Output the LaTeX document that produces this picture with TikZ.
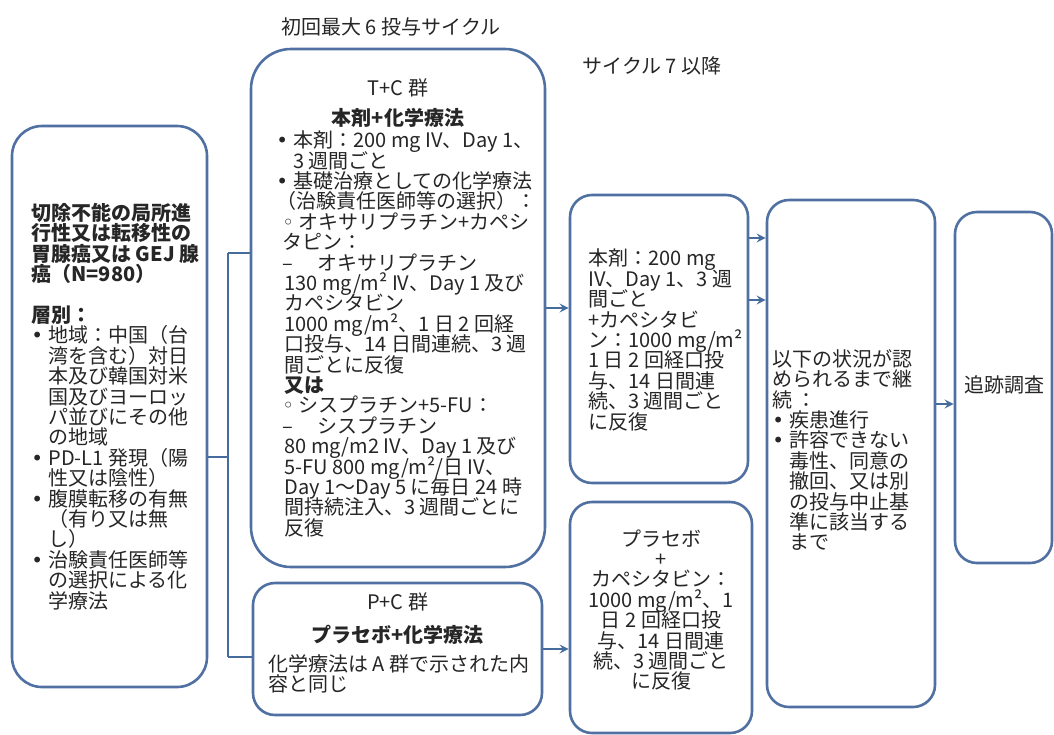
\documentclass[tikz,border=0pt]{standalone}
\usepackage{fontspec}
\setmainfont{Noto Sans CJK JP}
\newfontfamily\symfont{DejaVu Sans}
\usetikzlibrary{calc}

\definecolor{boxline}{RGB}{80,112,162}
\definecolor{arrline}{RGB}{70,108,158}
\newcommand{\bul}{\makebox[8.5pt][l]{\symfont •}}
\newcommand{\subbul}{\makebox[8pt][l]{\symfont ◦}}
\newcommand{\ind}{\hspace*{8.5pt}}

\begin{document}
\begin{tikzpicture}[x = 0.5pt, y = -0.5pt,
    box/.style = {draw = boxline, line width = 1.3pt, rounded corners = 11pt, fill = white},
    txt/.style = {inner sep = 0pt, text = black!85, font = {\fontsize{10}{10.2}\selectfont\lineskiplimit=-20pt\lineskip=0pt}, align = left},
    conn/.style = {draw = arrline, line width = 1pt}]
    \useasboundingbox (0, 0) rectangle (1054, 734);

    \node[txt] (headA) at (391, 27) {初回最大 6 投与サイクル};
    \node[txt] (headB) at (652, 66) {サイクル 7 以降};

    \node[box, minimum width = 97.5pt, minimum height = 280.5pt, rounded corners = 15pt] (pop) at (109.5, 406.5) {};
    \node[box, minimum width = 147pt, minimum height = 259pt, rounded corners = 20pt] (armT) at (398, 308) {};
    \node[box, minimum width = 144.5pt, minimum height = 66pt] (armP) at (397.5, 649) {};
    \node[box, minimum width = 89pt, minimum height = 144pt] (contT) at (659, 339) {};
    \node[box, minimum width = 91pt, minimum height = 115.5pt] (contP) at (661, 617.5) {};
    \node[box, minimum width = 84pt, minimum height = 253.5pt] (until) at (851, 453.5) {};
    \node[box, minimum width = 48.5pt, minimum height = 175.5pt] (follow) at (1003.5, 387.5) {};

    \node[txt, anchor = west] (popText) at (31, 406.5) {%
        \textbf{切除不能の局所進}\\
        \textbf{行性又は転移性の}\\
        \textbf{胃腺癌又は GEJ 腺}\\
        \textbf{癌（N=980）}\\
        \mbox{}\\
        \textbf{層別：}\\
        \bul 地域：中国（台\\
        \ind 湾を含む）対日\\
        \ind 本及び韓国対米\\
        \ind 国及びヨーロッ\\
        \ind パ並びにその他\\
        \ind の地域\\
        \bul PD-L1 発現（陽\\
        \ind 性又は陰性）\\
        \bul 腹膜転移の有無\\
        \ind （有り又は無\\
        \ind し）\\
        \bul 治験責任医師等\\
        \ind の選択による化\\
        \ind 学療法};

    \node[txt] (armTname) at (398, 88) {T+C 群};
    \node[txt] (armTtitle) at (398, 118) {\textbf{本剤+化学療法}};
    \node[txt, anchor = west] (armTtext) at (276, 334) {%
        \bul 本剤：200 mg IV、Day 1、\\
        \ind 3 週間ごと\\
        \bul 基礎治療としての化学療法\\
        （治験責任医師等の選択）：\\
        \hspace*{3pt}\subbul オキサリプラチン+カペシ\\
        \hspace*{3pt}タピン：\\
        \hspace*{3pt}–\hspace*{12pt}オキサリプラチン\\
        \hspace*{4pt}130 mg/m² IV、Day 1 及び\\
        \hspace*{4pt}カペシタビン\\
        \hspace*{4pt}1000 mg/m²、1 日 2 回経\\
        \hspace*{4pt}口投与、14 日間連続、3 週\\
        \hspace*{4pt}間ごとに反復\\
        \hspace*{4pt}\textbf{又は}\\
        \hspace*{3pt}\subbul シスプラチン+5-FU：\\
        \hspace*{3pt}–\hspace*{12pt}シスプラチン\\
        \hspace*{4pt}80 mg/m2 IV、Day 1 及び\\
        \hspace*{4pt}5-FU 800 mg/m²/日 IV、\\
        \hspace*{4pt}Day 1～Day 5 に毎日 24 時\\
        \hspace*{4pt}間持続注入、3 週間ごとに\\
        \hspace*{4pt}反復};

    \node[txt] (armPname) at (397.5, 602) {P+C 群};
    \node[txt] (armPtitle) at (397.5, 635) {\textbf{プラセボ+化学療法}};
    \node[txt, anchor = west] (armPtext) at (268, 674) {化学療法は A 群で示された内\\容と同じ};

    \node[txt, anchor = west] (contTtext) at (588, 340) {%
        本剤：200 mg\\
        IV、Day 1、3 週\\
        間ごと\\
        +カペシタビ\\
        ン：1000 mg/m²\\
        1 日 2 回経口投\\
        与、14 日間連\\
        続、3 週間ごと\\
        に反復};
    \node[txt, align = center] (contPtext) at (661, 610) {%
        プラセボ\\
        +\\
        カペシタビン：\\
        1000 mg/m²、1\\
        日 2 回経口投\\
        与、14 日間連\\
        続、3 週間ごと\\
        に反復};
    \node[txt, anchor = west] (untilText) at (772, 450) {%
        以下の状況が認\\
        められるまで継\\
        続 ：\\
        \bul 疾患進行\\
        \bul 許容できない\\
        \ind 毒性、同意の\\
        \ind 撤回、又は別\\
        \ind の投与中止基\\
        \ind 準に該当する\\
        \ind まで};
    \node[txt] (followText) at (1004, 385) {追跡調査};

    \coordinate (split) at (228, 457);
    \coordinate (brTop) at (228, 253);
    \coordinate (brBot) at (228, 657);
    \draw[conn] (pop.east |- split) -- (split);
    \draw[conn] (brTop) -- (brBot);
    \draw[conn] (brTop) -- (brTop -| armT.west);
    \draw[conn] (brBot) -- (brBot -| armP.west);

    \draw[conn, -stealth] (armT.east) -- (armT.east -| contT.west);
    \draw[conn, -stealth] (armP.east) -- (armP.east -| contP.west);
    \foreach \y in {238, 300}{
        \draw[conn, -stealth] (contT.east |- 0,\y) -- (until.west |- 0,\y);
    }
    \draw[conn, -stealth] (until.east |- 0,404) -- (follow.west |- 0,404);
\end{tikzpicture}
\end{document}
